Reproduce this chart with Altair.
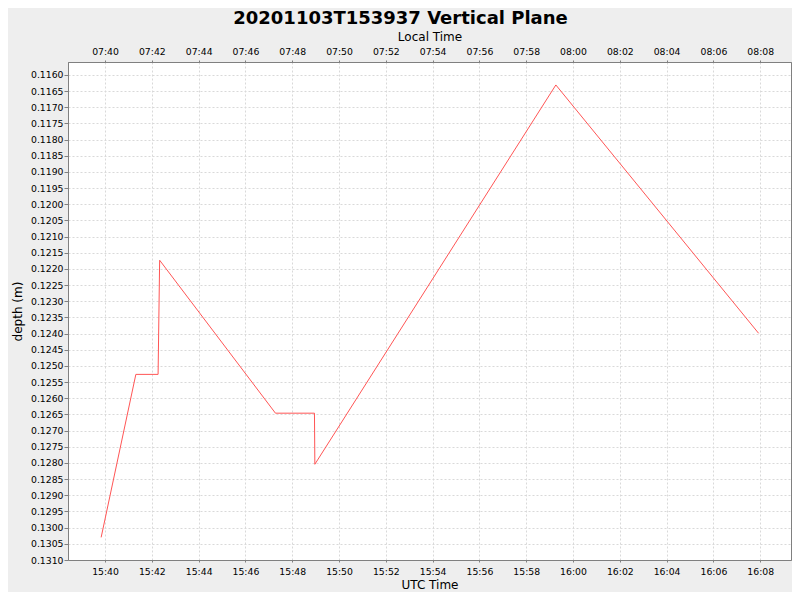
import altair as alt
import pandas as pd

# ---- data ----
DATE = "2020-11-03"
LOCAL_OFFSET_HOURS = -8

utc_times = ["15:39:50", "15:41:19", "15:42:16", "15:42:20", "15:47:17",
             "15:48:57", "15:48:58", "15:59:16", "16:07:56"]
depths = [0.13030, 0.12526, 0.12526, 0.12173, 0.12646,
          0.12646, 0.12804, 0.11631, 0.12399]

utc_tick_labels = ["15:40", "15:42", "15:44", "15:46", "15:48", "15:50", "15:52",
                   "15:54", "15:56", "15:58", "16:00", "16:02", "16:04", "16:06", "16:08"]
local_tick_labels = ["07:40", "07:42", "07:44", "07:46", "07:48", "07:50", "07:52",
                     "07:54", "07:56", "07:58", "08:00", "08:02", "08:04", "08:06", "08:08"]
depth_ticks = [0.1160, 0.1165, 0.1170, 0.1175, 0.1180, 0.1185, 0.1190, 0.1195,
               0.1200, 0.1205, 0.1210, 0.1215, 0.1220, 0.1225, 0.1230, 0.1235,
               0.1240, 0.1245, 0.1250, 0.1255, 0.1260, 0.1265, 0.1270, 0.1275,
               0.1280, 0.1285, 0.1290, 0.1295, 0.1300, 0.1305, 0.1310]

utc_domain = ["15:38:25", "16:09:19"]
depth_domain = [0.1156, 0.1310]

TITLE = "20201103T153937 Vertical Plane"


def to_ms(hms):
    if len(hms) == 5:
        hms = hms + ":00"
    return int(pd.Timestamp(f"{DATE}T{hms}Z").value // 10**6)


OFF = LOCAL_OFFSET_HOURS * 3600 * 1000

df = pd.DataFrame({
    "utc": [to_ms(t) for t in utc_times],
    "depth": depths,
})
df["local"] = df["utc"] + OFF

utc_dom = [to_ms(t) for t in utc_domain]
local_dom = [v + OFF for v in utc_dom]
utc_vals = [to_ms(t) for t in utc_tick_labels]
local_vals = [to_ms(t) for t in local_tick_labels]

y_enc = alt.Y(
    "depth:Q",
    scale=alt.Scale(domain=depth_domain, reverse=True, nice=False, zero=False),
    axis=alt.Axis(title="depth (m)", values=depth_ticks, format=".4f",
                  grid=True, tickSize=4, labelPadding=1, titlePadding=6),
)

base = alt.Chart(df)

line = base.mark_line(color="#ff5555", strokeWidth=1).encode(
    x=alt.X("utc:T",
            scale=alt.Scale(type="utc", domain=utc_dom, nice=False),
            axis=alt.Axis(title="UTC Time", orient="bottom", values=utc_vals,
                          format="%H:%M", grid=True, tickSize=2,
                          labelPadding=5, titlePadding=3, labelFlush=False,
                          labelOverlap=False)),
    y=y_enc,
)

top = base.mark_line(opacity=0).encode(
    x=alt.X("local:T",
            scale=alt.Scale(type="utc", domain=local_dom, nice=False),
            axis=alt.Axis(title="Local Time", orient="top", values=local_vals,
                          format="%H:%M", grid=False, tickSize=2,
                          labelPadding=4, titlePadding=4, labelFlush=False,
                          labelOverlap=False)),
    y=y_enc,
)

chart = alt.layer(line, top).resolve_scale(x="independent").properties(
    width=723,
    height=498,
    background="#eeeeee",
    padding={"left": 60, "top": 54, "right": 1, "bottom": 32},
    autosize=alt.AutoSizeParams(type="none"),
    title=alt.Title(TITLE, font="DejaVu Sans", fontSize=18, fontWeight="bold",
                    color="black", anchor="middle", frame="group", dx=-29,
                    offset=2),
).configure_view(
    fill="white", stroke="#808080", strokeWidth=1
).configure_axis(
    labelFont="DejaVu Sans", labelFontSize=9.3, labelColor="black",
    titleFont="DejaVu Sans", titleFontSize=12, titleFontWeight="normal",
    titleColor="black", domainColor="#808080", tickColor="#808080",
    gridColor="#d9d9d9", gridDash=[2, 2], gridWidth=1,
)

chart.save("out.html", embed_options={"renderer": "svg", "actions": False})
